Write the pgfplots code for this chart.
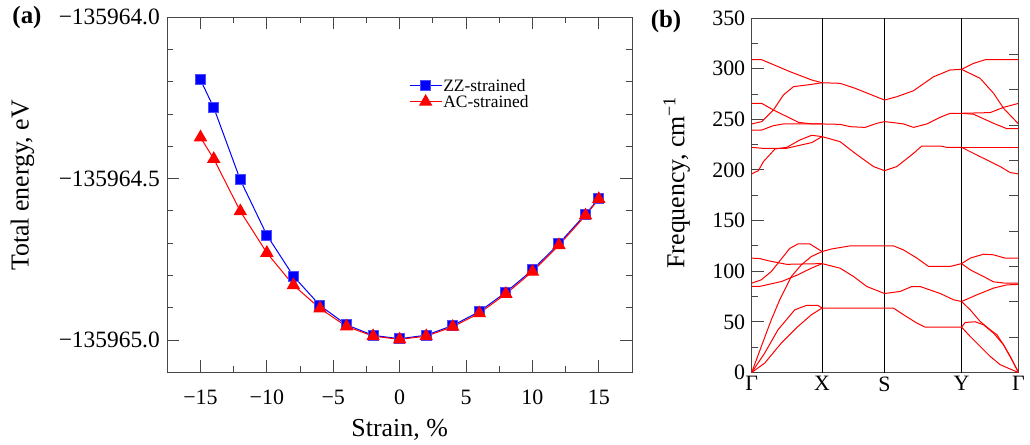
\documentclass[border=0pt]{standalone}
\usepackage{fontspec}
\setmainfont{Liberation Serif}
\usepackage{pgfplots}
\pgfplotsset{compat=1.18}
\definecolor{zzblue}{RGB}{0,0,255}
\definecolor{acred}{RGB}{255,0,0}
\definecolor{frame}{RGB}{70,70,70}

\pgfplotsset{
  every axis/.append style={
    scale only axis,
    font=\fontsize{22}{24}\selectfont,
    axis line style={frame, line width=0.9bp},
    tick style={frame, line width=0.9bp},
    tick align=inside,
    major tick length=12bp,
    minor tick length=6bp,
    /pgf/number format/assume math mode=true,
  },
  every axis label/.append style={font=\fontsize{26}{28}\selectfont},
  band/.style={acred, line width=1bp, mark=none, solid},
}

\begin{document}
\begin{tikzpicture}
\useasboundingbox (0,0) rectangle (1030bp,445bp);

% ---- (a) total energy vs strain (E + 135965 eV) ----
\begin{axis}[
  at={(167.3bp,72.7bp)}, anchor=south west,
  width=464.7bp, height=355bp,
  xmin=-17.5, xmax=17.5, ymin=-0.1, ymax=1.0,
  xtick={-15,-10,-5,0,5,10,15},
  xticklabels={−15,−10,−5,0,5,10,15},
  minor x tick num=1,
  ytick={0,0.5,1},
  yticklabels={−135965.0,−135964.5,−135964.0},
  minor y tick num=4,
  xticklabel style={yshift=-14bp},
  yticklabel style={xshift=-4bp, font=\fontsize{23.5}{24}\selectfont},
  xlabel={Strain, \%},
  ylabel={Total energy, eV},
  xlabel style={at={(axis description cs:0.5,-0.163)}, anchor=center},
  ylabel style={at={(axis description cs:-0.3116,0.526)}, anchor=center},
  legend style={at={(0.52,0.83)}, anchor=north west, draw=none, fill=none,
    font=\fontsize{17.5}{17.5}\selectfont, inner sep=0pt, row sep=0pt,
    nodes={inner sep=1.2bp}},
  legend cell align=left,
  legend image code/.code={\draw[mark repeat=2,mark phase=2]
    plot coordinates {(0bp,0bp) (16bp,0bp) (32bp,0bp)};},
]
\addplot[zzblue, line width=1bp, mark=square*, mark size=5bp,
  mark options={fill=zzblue, draw=zzblue!70}] coordinates {
  (-15,0.806) (-14,0.720) (-12,0.496) (-10,0.325) (-8,0.198) (-6,0.107)
  (-4,0.047) (-2,0.0145) (0,0.004) (2,0.015) (4,0.045) (6,0.088)
  (8,0.148) (10,0.217) (12,0.299) (14,0.390) (15,0.438)
};
\addlegendentry{ZZ-strained}
\addplot[acred, line width=1bp, mark=triangle*, mark size=6.8bp,
  mark options={fill=acred, draw=acred}] coordinates {
  (-15,0.628) (-14,0.561) (-12,0.399) (-10,0.270) (-8,0.170) (-6,0.098)
  (-4,0.042) (-2,0.012) (0,0.002) (2,0.012) (4,0.041) (6,0.083)
  (8,0.143) (10,0.212) (12,0.294) (14,0.386) (15,0.437)
};
\addlegendentry{AC-strained}
\end{axis}

% ---- (b) phonon dispersion ----
\begin{axis}[
  at={(751.7bp,72.5bp)}, anchor=south west,
  width=266.8bp, height=354.5bp,
  xmin=0, xmax=266.6, ymin=0, ymax=350,
  xtick={0,70.3,132.7,209.7,266.6},
  xticklabels={Γ,X,S,Y,Γ},
  x tick style={draw=none},
  xticklabel style={yshift=-0.5bp},
  extra x ticks={70.3,132.7,209.7},
  extra x tick labels={},
  extra x tick style={grid=major, major grid style={black, line width=0.9bp}, major tick length=0pt},
  ytick={0,50,...,350},
  minor y tick num=1,
  ytick pos=left,
  yticklabel style={xshift=-3bp},
  ylabel={Frequency, cm\textsuperscript{−1}},
  ylabel style={at={(axis description cs:-0.281,0.536)}, anchor=center},
]
% Gamma - X, lower group
\addplot[band] coordinates {(0,0) (9.6,25.7) (19.6,52.1) (28,71.8) (39.6,94.8) (49.6,106.3) (59.6,114.5) (70.3,119.4)};
\addplot[band] coordinates {(0,88.2) (9.6,91.5) (19.6,99.7) (26.3,108) (38,122.5) (46.3,127) (58,127) (70.3,119.4)};
\addplot[band] coordinates {(0,112.9) (8,112.5) (18,110) (35,106.8) (70.3,107.5)};
\addplot[band] coordinates {(0,84.9) (8,85) (30,89.9) (46,96.4) (59.6,103) (70.3,107.5)};
\addplot[band] coordinates {(0,0) (13,19.2) (26.3,42.2) (43,61.9) (54.6,66.2) (66.3,66.2) (70.3,63.6)};
\addplot[band] coordinates {(0,0) (13,9.3) (29.6,29.1) (46.3,45.5) (59.6,57) (70.3,63.6)};
% X - S - Y, lower group
\addplot[band] coordinates {(70.3,119.4) (80,122) (98.3,125) (141.7,125) (151.7,121) (165,113) (176.7,104.7) (198.3,104.7) (209.7,107.5)};
\addplot[band] coordinates {(70.3,107.5) (88.3,103) (101.7,94.8) (115,84.9) (132.7,78) (148.3,80) (160,84.9) (168.3,84.9) (188.3,78) (201.7,71.8) (209.7,70.1)};
\addplot[band] coordinates {(70.3,63.6) (141.7,63.6) (151.7,57) (165,48.8) (173.3,44.8) (209.7,44.8)};
% Y - Gamma, lower group
\addplot[band] coordinates {(209.7,107.5) (218.3,112.9) (231.6,116.8) (241.6,116.2) (253.3,112.9) (266.6,112.9)};
\addplot[band] coordinates {(209.7,107.5) (218.3,101.4) (231.6,94.8) (241.6,89.5) (253.3,88.2) (266.6,88.2)};
\addplot[band] coordinates {(209.7,70.1) (225,76.7) (241.6,83.3) (255,86.5) (266.6,87)};
\addplot[band] coordinates {(209.7,70.1) (218.3,61.9) (228.3,50.4) (238.3,42.2) (245,37.3) (251.6,27.4) (258.3,15.9) (266.6,0)};
\addplot[band] coordinates {(209.7,44.8) (213.3,49.4) (223.3,50.1) (231.6,47.1) (241.6,38.9) (251.6,27.4) (260,12.6) (266.6,0)};
\addplot[band] coordinates {(209.7,44.8) (218.3,35.6) (228.3,25.7) (238.3,15.9) (248.3,7.7) (258.3,3.4) (266.6,0)};
% Gamma - X, upper group
\addplot[band] coordinates {(0,308.8) (10,308.8) (38.3,297) (60,288.8) (70.3,286.1)};
\addplot[band] coordinates {(0,245.4) (10,247.7) (21.7,259.2) (31.7,274) (41.7,282.2) (60,284.5) (70.3,286.1)};
\addplot[band] coordinates {(0,265.7) (10,265.7) (21.7,259.2) (46.7,247) (60,245.4) (70.3,245.4)};
\addplot[band] coordinates {(0,239.4) (10,239.4) (21.7,243.7) (31.7,245.4) (70.3,245.4)};
\addplot[band] coordinates {(0,222.3) (10,221.4) (35,221.4) (60,227) (70.3,232.9)};
\addplot[band] coordinates {(0,196.1) (6.7,199.3) (11.7,208.2) (23.3,220.7) (35,222.3) (48.3,229.6) (60,234.2) (70.3,232.9)};
% X - S - Y, upper group
\addplot[band] coordinates {(70.3,286.1) (88.3,285.5) (103.3,280.6) (132.7,269) (145,272.3) (161.7,278.2) (181.7,292) (198.3,298.7) (209.7,299.3)};
\addplot[band] coordinates {(70.3,245.4) (88.3,245) (98.3,242.7) (113.3,242) (125,246) (132.7,247.7) (141.7,246.7) (151.7,245.4) (161.7,242) (175,245.4) (188.3,252) (198.3,255.9) (209.7,255.9)};
\addplot[band] coordinates {(70.3,232.9) (88.3,227.9) (103.3,216.4) (121.7,203.3) (132.7,199.3) (145,203.3) (161.7,216.4) (170,223.6) (188.3,223.6) (195,222.3) (209.7,222.3)};
% Y - Gamma, upper group
\addplot[band] coordinates {(209.7,299.3) (221.7,305.2) (233.3,308.8) (266.6,308.8)};
\addplot[band] coordinates {(209.7,299.3) (228.3,290.4) (241.7,275.6) (251.7,260.8) (266.6,245.4)};
\addplot[band] coordinates {(209.7,255.9) (238.3,256.6) (251.7,261.8) (266.6,265.7)};
\addplot[band] coordinates {(209.7,255.9) (221.7,255) (241.7,246) (255,240.7) (266.6,240.7)};
\addplot[band] coordinates {(209.7,222.3) (266.6,222.3)};
\addplot[band] coordinates {(209.7,222.3) (228.3,213.1) (248.3,203.3) (258.3,197.4) (266.6,196.1)};
\end{axis}

% right-hand ticks of (b)
\begin{axis}[
  at={(751.7bp,72.5bp)}, anchor=south west,
  width=266.8bp, height=354.5bp,
  xmin=0, xmax=266.6, ymin=0, ymax=350,
  hide x axis,
  axis y line*=right,
  ytick={34.9,69.8,104.7,139.6,174.5,209.4,244.3,279.2,314.1},
  yticklabels={},
  major tick length=10bp,
]
\end{axis}

\node[font=\bfseries\fontsize{25}{25}\selectfont] at (27bp,427bp) {(a)};
\node[font=\bfseries\fontsize{25}{25}\selectfont] at (666bp,423bp) {(b)};
\end{tikzpicture}
\end{document}
